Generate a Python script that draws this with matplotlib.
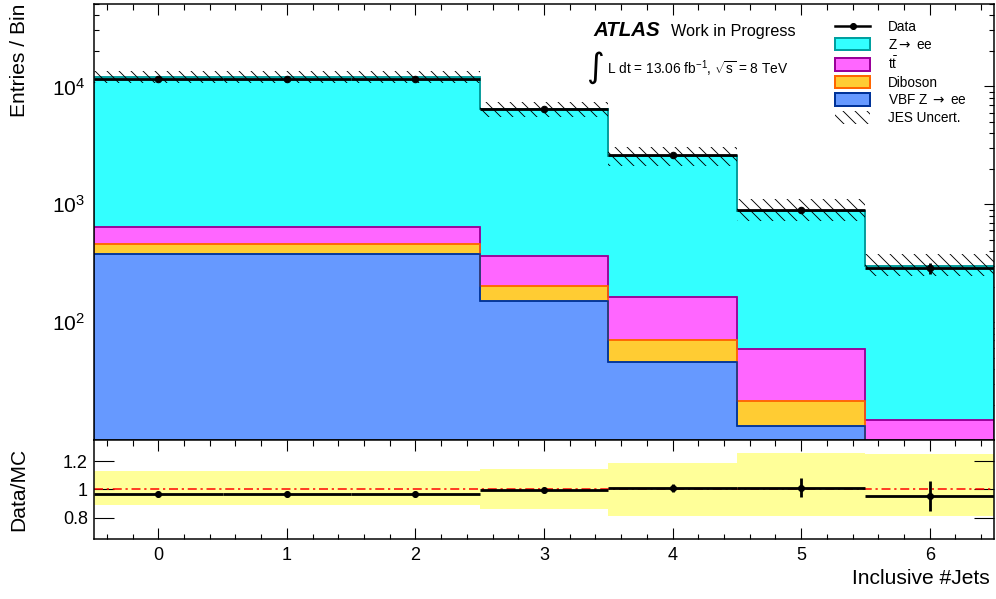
import numpy as np
import matplotlib
matplotlib.use("Agg")
import matplotlib.pyplot as plt
from matplotlib.lines import Line2D
from matplotlib.patches import Patch
from matplotlib.ticker import LogLocator, MultipleLocator, FixedLocator, FixedFormatter, NullFormatter

plt.rcParams['font.family'] = ['Liberation Sans', 'DejaVu Sans']
plt.rcParams['mathtext.fontset'] = 'custom'
plt.rcParams['mathtext.rm'] = 'Liberation Sans'
plt.rcParams['mathtext.it'] = 'Liberation Sans:italic'
plt.rcParams['mathtext.bf'] = 'Liberation Sans:bold'
plt.rcParams['mathtext.sf'] = 'DejaVu Sans'
plt.rcParams['hatch.linewidth'] = 0.9
plt.rcParams['hatch.color'] = 'black'

# ---- data ---------------------------------------------------------------
n_jets = [0, 1, 2, 3, 4, 5, 6]
tick_labels = ['0', '1', '2', '3', '4', '5', '6']

vbf_zee = [378, 378, 378, 150, 46, 13.2, 6.5]
diboson = [78, 78, 78, 51, 25, 8.2, 2.5]
ttbar = [191, 191, 191, 160, 91, 37.5, 5.8]
z_ee = [11340, 11340, 11340, 6030, 2404, 824, 287]
data = [11615, 11615, 11615, 6390, 2594, 895, 288]

# relative JES variation of the total prediction
jes_up = [1.13, 1.13, 1.13, 1.145, 1.19, 1.26, 1.25]
jes_down = [0.89, 0.89, 0.89, 0.86, 0.815, 0.815, 0.81]
# relative uncertainty on data / MC
ratio_err = [0.006, 0.006, 0.006, 0.012, 0.03, 0.065, 0.105]

ratio_yticks = [0.8, 1.0, 1.2]
ratio_ylabels = ['0.8', '1', '1.2']

# ---- derived quantities ----------------------------------------------------
x = np.array(n_jets, dtype=float)
edges = np.append(x - 0.5, x[-1] + 0.5)
c_vbf = np.array(vbf_zee)
c_dib = c_vbf + np.array(diboson)
c_tt = c_dib + np.array(ttbar)
mc_total = c_tt + np.array(z_ee)
data_arr = np.array(data, dtype=float)
ratio = data_arr / mc_total
rerr = np.array(ratio_err)

# ---- figure ----------------------------------------------------------------
W, H = 996, 599
DPI = 72
fig = plt.figure(figsize=(W / DPI, H / DPI), dpi=DPI)
ax = fig.add_axes([94 / W, 1 - 440 / H, 900 / W, 436 / H])
rax = fig.add_axes([94 / W, 1 - 539 / H, 900 / W, 99 / H], sharex=ax)

# stacked predictions (drawn as cumulative layers, back to front)
base = 1e-2
layers = [
    (mc_total, '#33FFFF', '#009999'),
    (c_tt, '#FF66FF', '#990099'),
    (c_dib, '#FFCC33', '#FF6600'),
    (c_vbf, '#6699FF', '#003399'),
]
for vals, fc, ec in layers:
    ax.stairs(vals, edges, baseline=base, fill=True, facecolor=fc,
              edgecolor=ec, linewidth=1.5, zorder=2)
    ax.stairs(vals, edges, baseline=None, color=ec, linewidth=1.5, zorder=2.1)

# JES uncertainty band
ax.stairs(mc_total * np.array(jes_up), edges, baseline=mc_total * np.array(jes_down),
          fill=True, facecolor='none', edgecolor='black', linewidth=0,
          hatch='\\\\', zorder=3)

# data
ax.errorbar(x, data_arr, xerr=0.5, yerr=rerr * mc_total, fmt='o', color='black',
            ms=6.5, elinewidth=2.8, capsize=0, zorder=4)

ax.set_yscale('log')
ax.set_ylim(10, 5e4)
ax.set_xlim(-0.5, 6.5)
ax.yaxis.set_major_locator(FixedLocator([1e2, 1e3, 1e4]))
ax.yaxis.set_minor_locator(LogLocator(base=10, subs=np.arange(2, 10), numticks=20))
ax.yaxis.set_minor_formatter(NullFormatter())
ax.tick_params(axis='both', which='both', direction='in', top=True, right=True,
               labelbottom=False, width=1.1)
ax.tick_params(axis='y', which='major', length=10, labelsize=21, pad=9)
ax.tick_params(axis='y', which='minor', length=5)
ax.tick_params(axis='x', which='major', length=11)
ax.tick_params(axis='x', which='minor', length=5.5)
ax.xaxis.set_major_locator(FixedLocator(n_jets))
ax.xaxis.set_minor_locator(MultipleLocator(0.2))

# ratio panel
rax.stairs(jes_up, edges, baseline=jes_down, fill=True, facecolor='#FFFF99',
           linewidth=0, zorder=1)
rax.axhline(1.0, color='red', linewidth=1.5, linestyle=(0, (6, 2.5, 1.5, 2.5)), zorder=2)
rax.errorbar(x, ratio, xerr=0.5, yerr=rerr, fmt='o', color='black', ms=6,
             elinewidth=2.8, capsize=0, zorder=3)
rax.set_ylim(0.65, 1.35)
rax.yaxis.set_major_locator(FixedLocator(ratio_yticks))
rax.yaxis.set_major_formatter(FixedFormatter(ratio_ylabels))
rax.xaxis.set_major_locator(FixedLocator(n_jets))
rax.xaxis.set_major_formatter(FixedFormatter(tick_labels))
rax.xaxis.set_minor_locator(MultipleLocator(0.2))
rax.tick_params(axis='both', which='both', direction='in', top=True, right=True, width=1.1)
rax.tick_params(axis='y', which='major', length=20, labelsize=18, pad=6)
rax.tick_params(axis='y', which='minor', length=0)
rax.tick_params(axis='x', which='major', length=11, labelsize=18, pad=8)
rax.tick_params(axis='x', which='minor', length=5.5)

for a in (ax, rax):
    for s in a.spines.values():
        s.set_linewidth(1.5)

# axis titles
fig.text(20 / W, 1 - 4 / H, 'Entries / Bin', rotation=90, ha='center', va='top', fontsize=21)
fig.text(18.5 / W, 1 - 489 / H, 'Data/MC', rotation=90, ha='center', va='center', fontsize=21)
fig.text(990 / W, 1 - 578 / H, 'Inclusive #Jets', ha='right', va='center', fontsize=21)

# experiment label
fig.text(593 / W, 1 - 36 / H, 'ATLAS', fontsize=20.5, fontweight='bold', fontstyle='italic',
         va='baseline')
fig.text(671 / W, 1 - 36 / H, 'Work in Progress', fontsize=16.3, va='baseline')
fig.text(586 / W, 1 - 77 / H, '\u222b', fontsize=34, va='baseline', family=['DejaVu Sans'])
fig.text(607 / W, 1 - 74 / H, r'L dt = 13.06 fb$^{\mathregular{-1}}$, $\sqrt{\mathregular{s}}$ = 8 TeV',
         fontsize=13.8, va='baseline')

# legend
handles = [
    Line2D([], [], color='black', lw=2.5, marker='o', ms=6),
    Patch(facecolor='#33FFFF', edgecolor='#00A0A0', lw=2),
    Patch(facecolor='#FF66FF', edgecolor='#990099', lw=2),
    Patch(facecolor='#FFCC33', edgecolor='#FF6600', lw=2),
    Patch(facecolor='#6699FF', edgecolor='#003399', lw=2),
    Patch(facecolor='none', edgecolor='black', lw=0, hatch='\\\\'),
]
labels = ['Data', r'Z$\mathsf{\rightarrow}$ ee', r'$\mathregular{t\bar{t}}$', 'Diboson',
          r'VBF Z $\mathsf{\rightarrow}$ ee', 'JES Uncert.']
fs = 13.6
fig.legend(handles, labels, loc='upper left', bbox_to_anchor=(835 / W, 1 - 20 / H),
           frameon=False, fontsize=fs, handlelength=35 / fs, handleheight=14 / fs,
           handletextpad=18 / fs, labelspacing=0.27, borderpad=0, borderaxespad=0)

fig.savefig('out.png', dpi=DPI)
